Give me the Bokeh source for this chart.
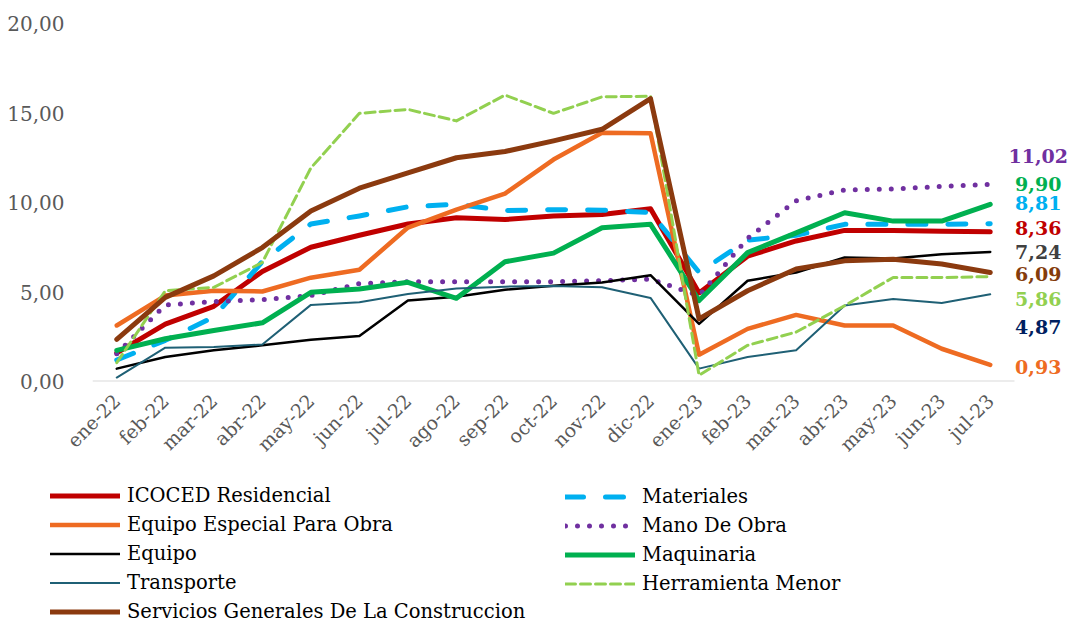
import math
from bokeh.plotting import figure
from bokeh.models import (Range1d, FixedTicker, Legend, LegendItem, ColumnDataSource)
from bokeh.core.properties import value
from bokeh.embed import file_html
from bokeh.resources import INLINE

months = ["ene-22", "feb-22", "mar-22", "abr-22", "may-22", "jun-22", "jul-22",
          "ago-22", "sep-22", "oct-22", "nov-22", "dic-22", "ene-23", "feb-23",
          "mar-23", "abr-23", "may-23", "jun-23", "jul-23"]

icoced = [1.60, 3.20, 4.20, 6.15, 7.50, 8.17, 8.80, 9.15, 9.05, 9.24, 9.33, 9.65,
          4.95, 7.00, 7.85, 8.44, 8.43, 8.40, 8.36]
materiales = [1.20, 2.30, 3.60, 6.70, 8.80, 9.25, 9.76, 9.90, 9.55, 9.60, 9.57, 9.44,
              6.10, 7.90, 8.17, 8.78, 8.78, 8.78, 8.81]
equipo_especial = [3.13, 4.80, 5.07, 5.03, 5.80, 6.24, 8.60, 9.60, 10.50, 12.40, 13.90, 13.87,
                   1.50, 2.94, 3.72, 3.13, 3.13, 1.83, 0.93]
mano_obra = [1.55, 4.28, 4.46, 4.57, 4.80, 5.47, 5.57, 5.57, 5.57, 5.57, 5.63, 5.72,
             4.80, 8.00, 10.10, 10.70, 10.76, 10.90, 11.02]
equipo = [0.72, 1.37, 1.74, 2.02, 2.33, 2.54, 4.52, 4.74, 5.13, 5.35, 5.53, 5.94,
          3.22, 5.63, 6.09, 6.93, 6.87, 7.11, 7.24]
maquinaria = [1.74, 2.39, 2.85, 3.28, 4.98, 5.17, 5.54, 4.65, 6.69, 7.17, 8.59, 8.78,
              4.52, 7.20, 8.30, 9.43, 8.96, 8.96, 9.90]
transporte = [0.22, 1.89, 1.93, 2.07, 4.28, 4.43, 4.89, 5.20, 5.30, 5.33, 5.26, 4.67,
              0.72, 1.37, 1.74, 4.24, 4.61, 4.39, 4.87]
herramienta = [1.05, 5.07, 5.26, 6.65, 11.93, 14.98, 15.20, 14.56, 16.00, 14.98, 15.90, 15.94,
               0.35, 2.02, 2.76, 4.24, 5.81, 5.81, 5.86]
servicios = [2.35, 4.70, 5.90, 7.48, 9.52, 10.80, 11.65, 12.50, 12.85, 13.44, 14.09, 15.80,
             3.50, 5.07, 6.28, 6.74, 6.83, 6.56, 6.09]

names = ["ICOCED Residencial", "Materiales", "Equipo Especial Para Obra", "Mano De Obra",
         "Equipo", "Maquinaria", "Transporte", "Herramienta Menor",
         "Servicios Generales De La Construccion"]
data = [icoced, materiales, equipo_especial, mano_obra, equipo, maquinaria,
        transporte, herramienta, servicios]

y_ticks = [0, 5, 10, 15, 20]

# styles
colors = ["#C00000", "#00B0F0", "#EE6B22", "#7030A0", "#000000", "#00B050",
          "#1F6075", "#92D050", "#8B3A0F"]
widths = [5, 5, 4.5, 5, 2.5, 5, 2, 3, 5]
dashes = ["solid", "18 22", "solid", "0 12", "solid", "solid", "solid", "10 5", "solid"]
label_colors = ["#C00000", "#00B0F0", "#EE6B22", "#7030A0", "#404040", "#00B050",
                "#002060", "#92D050", "#843C0C"]
label_dy = [-4, -21, 2, -28, 0, -20, 33, 22, 2]

W = 1069
FRAME_L, FRAME_R = 92, 1014
n = len(months)
xs = list(range(n))
x_end = -0.5 + n * (W - FRAME_L) / (FRAME_R - FRAME_L)

p = figure(x_range=Range1d(-0.5, x_end), y_range=Range1d(0, 20),
           width=W, height=466, output_backend="svg", toolbar_location=None,
           min_border_left=FRAME_L, min_border_right=0, min_border_top=23,
           min_border_bottom=83)
p.xgrid.visible = False
p.ygrid.visible = False
p.outline_line_color = None
p.background_fill_color = "white"

# baseline across the category bands
p.segment(x0=[-0.5], y0=[0], x1=[n - 0.5], y1=[0], line_color="#D9D9D9", line_width=2)

renderers = []
for vals, c, w, d in zip(data, colors, widths, dashes):
    r = p.line(xs, vals, line_color=c, line_width=w, line_dash=d,
               line_join="round", line_cap="round")
    renderers.append(r)

xa = p.xaxis[0]
xa.ticker = FixedTicker(ticks=xs)
xa.major_label_overrides = {i: m for i, m in zip(xs, months)}
xa.axis_line_color = None
xa.major_tick_line_color = None
xa.minor_tick_line_color = None
xa.major_label_orientation = math.pi / 4
xa.major_label_text_font = "DejaVu Serif"
xa.major_label_text_font_size = "19px"
xa.major_label_text_color = "#595959"
xa.major_label_standoff = 10

ya = p.yaxis[0]
ya.ticker = FixedTicker(ticks=y_ticks)
ya.major_label_overrides = {t: f"{t:.2f}".replace(".", ",") for t in y_ticks}
ya.axis_line_color = None
ya.major_tick_line_color = None
ya.minor_tick_line_color = None
ya.major_label_text_font = "DejaVu Serif"
ya.major_label_text_font_size = "20px"
ya.major_label_text_color = "#595959"
ya.major_label_standoff = 22

# end labels
src = ColumnDataSource(dict(
    x=[xs[-1]] * len(data),
    y=[v[-1] for v in data],
    text=[f"{v[-1]:.2f}".replace(".", ",") for v in data],
    color=label_colors,
    dy=label_dy,
))
p.text(x="x", y="y", text="text", source=src, text_color="color",
       x_offset=48, y_offset="dy", text_align="center", text_baseline="middle",
       text_font=value("DejaVu Serif"), text_font_style="bold", text_font_size="19px")

# legend figure (series drawn off-view so only legend glyphs show)
lf = figure(width=W, height=156, output_backend="svg", toolbar_location=None,
            x_axis_type=None, y_axis_type=None, x_range=Range1d(-0.5, x_end),
            y_range=Range1d(100, 101), min_border=0)
lf.outline_line_color = None
lf.xgrid.visible = False
lf.ygrid.visible = False
lrs = []
for vals, c, w, d in zip(data, colors, widths, dashes):
    lrs.append(lf.line(xs, vals, line_color=c, line_width=w, line_dash=d,
                       line_join="round", line_cap="round"))

left_idx = [0, 2, 4, 6, 8]
right_idx = [1, 3, 5, 7]

def make_legend(idx, loc):
    lg = Legend(items=[LegendItem(label=names[i], renderers=[lrs[i]]) for i in idx],
                location=loc, orientation="vertical")
    lg.label_text_font = "DejaVu Serif"
    lg.label_text_font_size = "19.5px"
    lg.label_text_color = "#000000"
    lg.glyph_width = 70
    lg.glyph_height = 29
    lg.label_height = 29
    lg.spacing = 0
    lg.padding = 0
    lg.margin = 0
    lg.label_standoff = 7
    lg.border_line_color = None
    lg.background_fill_alpha = 0
    return lg

lf.add_layout(make_legend(left_idx, (50, -4)))
lf.add_layout(make_legend(right_idx, (565, 24)))

open("out.html", "w").write(file_html([p, lf], INLINE))
